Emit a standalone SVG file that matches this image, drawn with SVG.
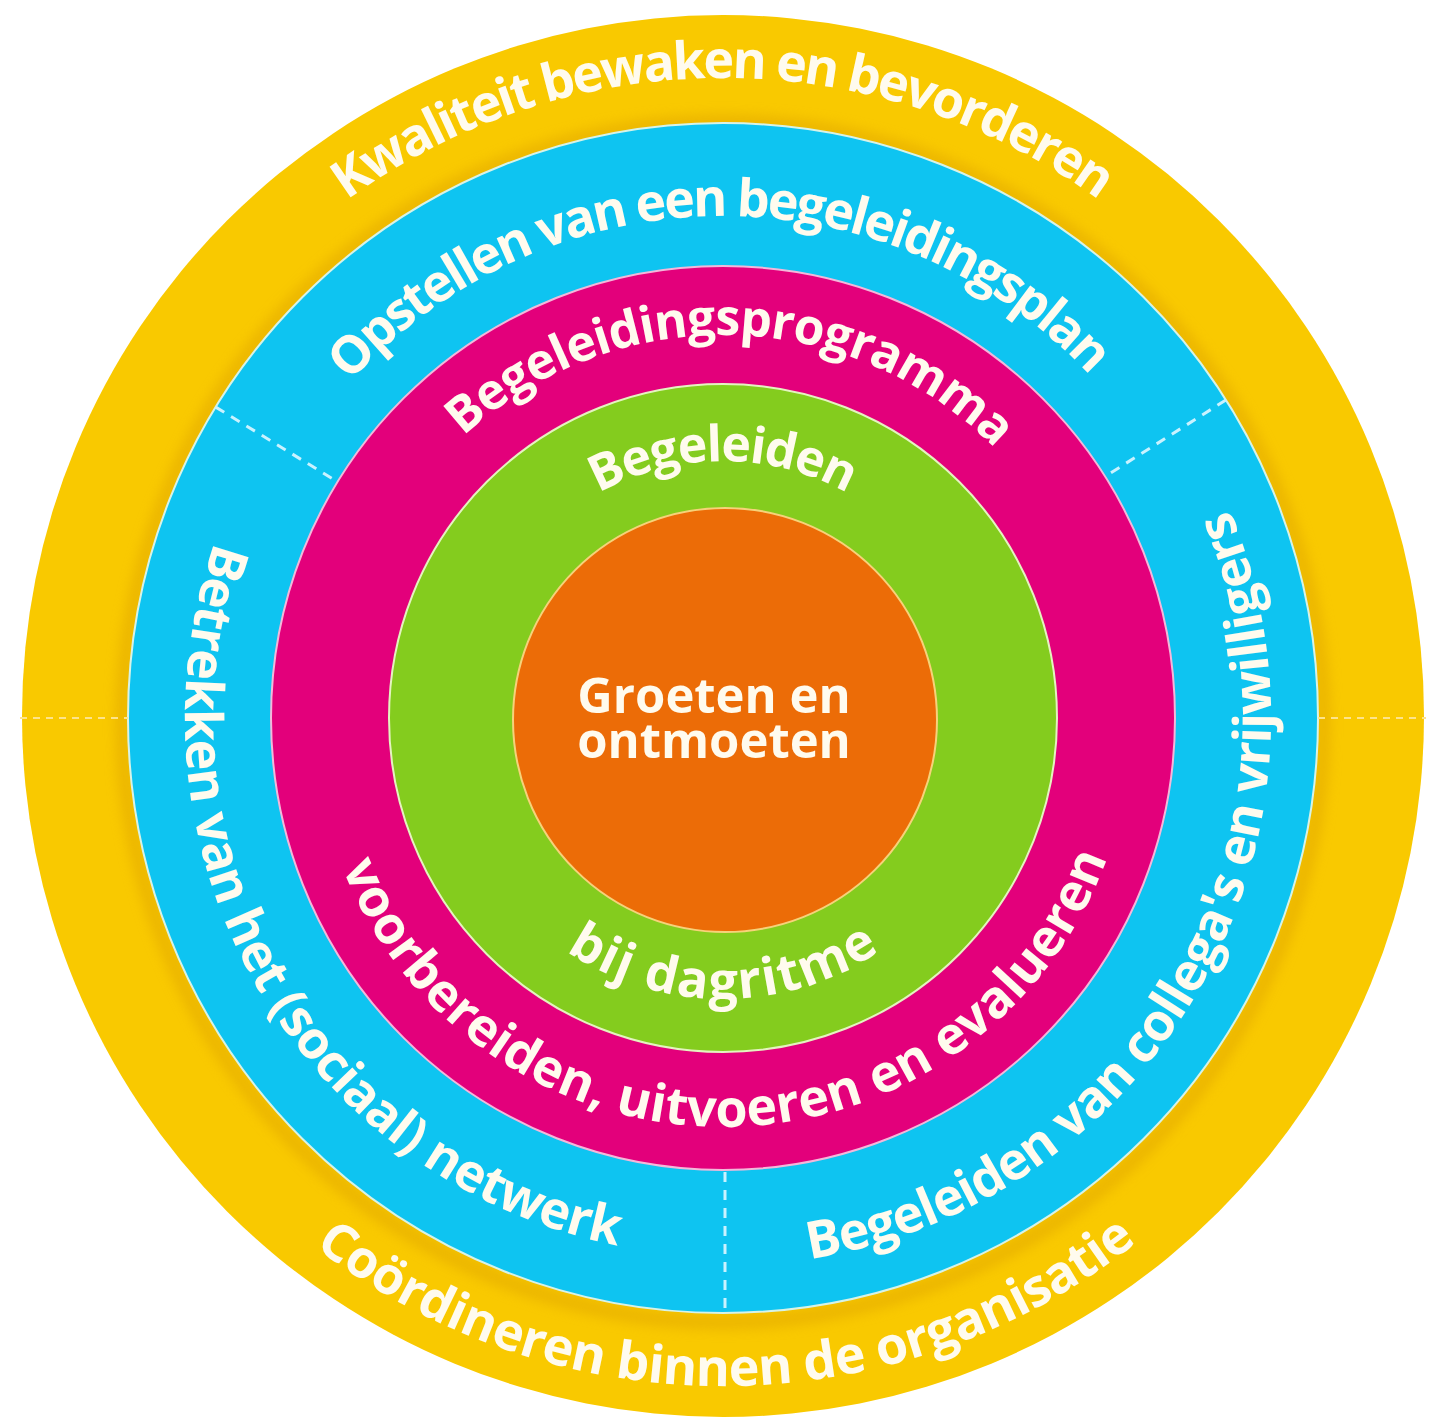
<svg xmlns="http://www.w3.org/2000/svg" width="1430" height="1425" viewBox="0 0 1430 1425">
<style>
.ring{stroke-width:2}
.t{font-family:"Open Sans","Noto Sans","Liberation Sans",sans-serif;font-weight:700;fill:#FFFBEE}
.dashY{stroke:#FDE38C;stroke-width:2;stroke-dasharray:7 6;fill:none}
.dashB{stroke:#C9F2FF;stroke-width:3;stroke-dasharray:10 8;fill:none}
</style>
<defs>
<filter id="sh" x="-10%" y="-10%" width="120%" height="120%"><feGaussianBlur stdDeviation="6"/></filter>
<path id="p1" d="M 262.6 273.4 A 640 640 0 0 1 1183.4 273.4"/>
<path id="p2" d="M 297.3 452.0 A 502 502 0 0 1 1144.0 444.6"/>
<path id="p3" d="M 418.3 485.9 A 383 383 0 0 1 1037.9 500.0"/>
<path id="p4" d="M 561.3 518.3 A 257 257 0 0 1 884.7 518.3"/>
<path id="p5" d="M 527.8 920.1 A 281 281 0 0 0 918.2 920.1"/>
<path id="p6" d="M 325.1 812.8 A 409 409 0 0 0 1123.0 803.0"/>
<path id="p7" d="M 244.1 472.9 A 538 538 0 0 0 692.0 1255.1"/>
<path id="p8" d="M 733.5 1265.9 A 548 548 0 0 0 1195.7 440.7"/>
<path id="p9" d="M 244.9 1184.5 A 668 668 0 0 0 1206.0 1179.5"/>
</defs>
<rect width="1430" height="1425" fill="#FFFFFF"/>

<g id="ring-yellow">
<circle cx="723" cy="716" r="701" fill="#F9C900"/>
<circle cx="723" cy="722" r="600" fill="none" stroke="#E2A800" stroke-width="16" opacity="0.55" filter="url(#sh)"/>
<text class="t" font-size="52"><textPath href="#p1" startOffset="50%" text-anchor="middle" textLength="804" lengthAdjust="spacing">Kwaliteit bewaken en bevorderen</textPath></text>
<text class="t" font-size="52"><textPath href="#p9" startOffset="50%" text-anchor="middle" textLength="886" lengthAdjust="spacing">Coördineren binnen de organisatie</textPath></text>
</g>

<g id="ring-blue">
<circle class="ring" cx="723" cy="718" r="595" fill="#0EC4F1" stroke="#D6F3E8"/>
<text class="t" font-size="52"><textPath href="#p2" startOffset="50%" text-anchor="middle" textLength="832" lengthAdjust="spacing">Opstellen van een begeleidingsplan</textPath></text>
<text class="t" font-size="52"><textPath href="#p7" startOffset="50%" text-anchor="middle" textLength="918" lengthAdjust="spacing">Betrekken van het (sociaal) netwerk</textPath></text>
<text class="t" font-size="52"><textPath href="#p8" startOffset="50%" text-anchor="middle" textLength="988" lengthAdjust="spacing">Begeleiden van collega's en vrijwilligers</textPath></text>
</g>

<g id="ring-magenta">
<circle class="ring" cx="723" cy="718" r="452" fill="#E3007B" stroke="#F3B8DA"/>
<text class="t" font-size="50"><textPath href="#p3" startOffset="50%" text-anchor="middle" textLength="588" lengthAdjust="spacing">Begeleidingsprogramma</textPath></text>
<text class="t" font-size="52"><textPath href="#p6" startOffset="50%" text-anchor="middle" textLength="989" lengthAdjust="spacing">voorbereiden, uitvoeren en evalueren</textPath></text>
</g>

<g id="ring-green">
<circle class="ring" cx="723" cy="718" r="334" fill="#84CC1E" stroke="#E4F3C0"/>
<text class="t" font-size="50"><textPath href="#p4" startOffset="50%" text-anchor="middle" textLength="260" lengthAdjust="spacing">Begeleiden</textPath></text>
<text class="t" font-size="52"><textPath href="#p5" startOffset="50%" text-anchor="middle" textLength="333" lengthAdjust="spacing">bij dagritme</textPath></text>
</g>

<g id="core-orange">
<circle cx="725" cy="720" r="212" fill="#EC6C07" stroke="#F6D27A" stroke-width="2"/>
<text class="t" font-size="49" text-anchor="middle"><tspan x="714" y="713">Groeten en</tspan><tspan x="714" y="758">ontmoeten</tspan></text>
</g>

<g id="connectors">
<line class="dashY" x1="20" y1="718" x2="128" y2="718"/>
<line class="dashY" x1="1318" y1="718" x2="1426" y2="718"/>
<line class="dashB" x1="215.7" y1="407.1" x2="337.6" y2="481.8"/>
<line class="dashB" x1="1225.9" y1="400.0" x2="1105.1" y2="476.5"/>
<line class="dashB" x1="725" y1="1172" x2="725" y2="1313"/>
</g>
</svg>
